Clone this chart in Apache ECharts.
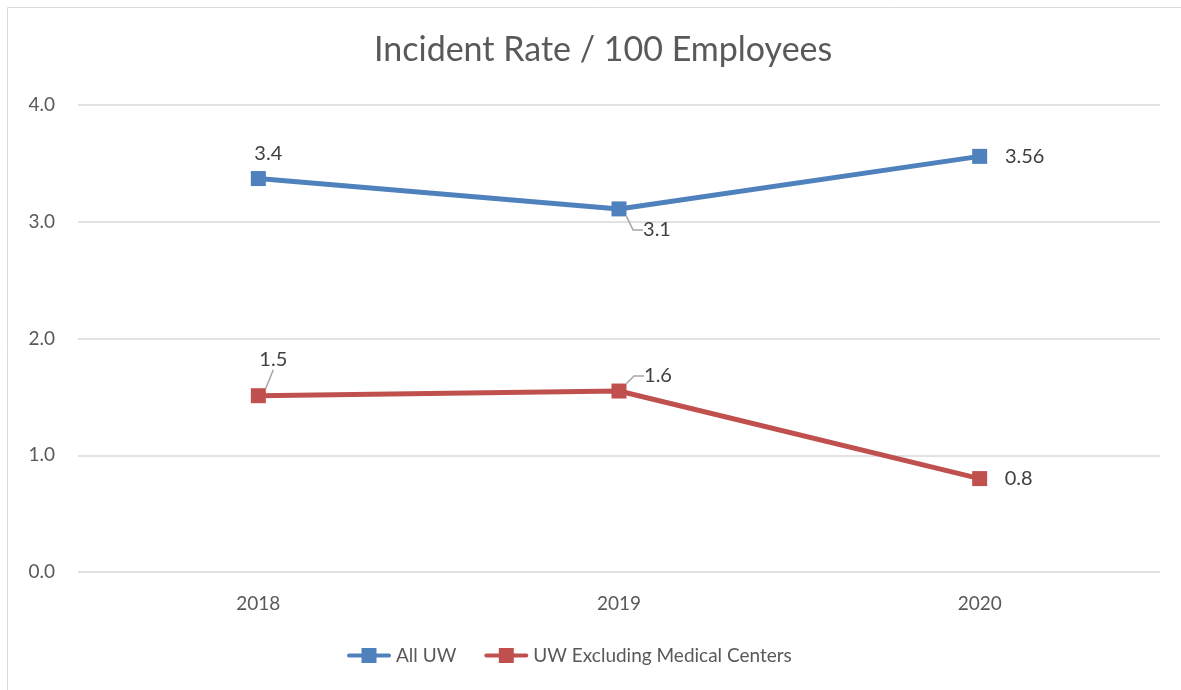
<!DOCTYPE html>
<html>
<head>
<meta charset="utf-8">
<script src="https://cdn.jsdelivr.net/npm/echarts@6/dist/echarts.min.js"></script>
<style>
  html, body { margin: 0; padding: 0; background: #fff; }
  #chart { width: 1181px; height: 690px; }
</style>
</head>
<body>
<div id="chart"></div>
<script>
// ---- data ----
var categories = ['2018', '2019', '2020'];
var seriesNames = ['All UW', 'UW Excluding Medical Centers'];
var allUW = [3.37, 3.11, 3.56];
var allUWLabels = ['3.4', '3.1', '3.56'];
var uwExcl = [1.51, 1.55, 0.80];
var uwExclLabels = ['1.5', '1.6', '0.8'];
var yTicks = [0, 1, 2, 3, 4];

// ---- label placement (styling only) ----
var labelOffsets = [
  [[10, -25], [38, 21], [45, 0]],
  [[15, -36], [39, -15], [39, 0]]
];
var guideLen2 = [
  [null, 10, null],
  [0, 10, null]
];

var font = 'Lato, "Open Sans", sans-serif';
var colors = ['#4f81bd', '#c0504d'];
var legendIcon = 'path://M2,5.5 L42,5.5 A2,2 0 0 1 42,9.5 L2,9.5 A2,2 0 0 1 2,5.5 Z M14.5,0 L29.5,0 L29.5,15 L14.5,15 Z';

function buildData(values, labels, si) {
  return values.map(function (v, i) {
    var g = guideLen2[si][i];
    return {
      value: v,
      label: { formatter: labels[i] },
      labelLine: g === null ? { show: false } : { show: true, length2: g }
    };
  });
}

var chart = echarts.init(document.getElementById('chart'));
chart.setOption({
  animation: false,
  title: {
    text: 'Incident Rate / 100 Employees',
    left: 369,
    top: 28,
    textStyle: { fontFamily: font, fontSize: 34, fontWeight: 'normal', color: '#595959' }
  },
  graphic: [{
    type: 'rect',
    shape: { x: 7.5, y: 7.5, width: 1300, height: 800 },
    style: { fill: 'none', stroke: '#d9d9d9', lineWidth: 1 },
    silent: true
  }],
  legend: {
    bottom: 20,
    left: 342,
    itemWidth: 44,
    itemHeight: 15,
    itemGap: 28,
    icon: legendIcon,
    textStyle: { fontFamily: font, fontSize: 19, color: '#595959' },
    data: seriesNames
  },
  grid: { left: 78, right: 21, top: 105, bottom: 118, containLabel: false },
  xAxis: {
    type: 'category',
    data: categories,
    boundaryGap: true,
    axisLine: { show: false },
    axisTick: { show: false },
    axisLabel: { fontFamily: font, fontSize: 19, color: '#595959', margin: 22 }
  },
  yAxis: {
    type: 'value',
    min: yTicks[0],
    max: yTicks[yTicks.length - 1],
    interval: 1,
    axisLine: { show: false },
    axisTick: { show: false },
    splitLine: { lineStyle: { color: '#d9d9d9', width: 1.5 } },
    axisLabel: {
      fontFamily: font, fontSize: 19, color: '#595959', margin: 23,
      formatter: function (v) { return v.toFixed(1); }
    }
  },
  series: [allUW, uwExcl].map(function (vals, si) {
    return {
      name: seriesNames[si],
      type: 'line',
      data: buildData(vals, si === 0 ? allUWLabels : uwExclLabels, si),
      color: colors[si],
      symbol: 'rect',
      symbolSize: 15,
      lineStyle: { width: 5, color: colors[si] },
      itemStyle: { color: colors[si] },
      label: {
        show: true,
        position: 'inside',
        fontFamily: font,
        fontSize: 20,
        color: '#404040'
      },
      labelLine: {
        show: false,
        lineStyle: { color: '#a6a6a6', width: 1.5 }
      },
      labelLayout: function (p) {
        var o = labelOffsets[p.seriesIndex][p.dataIndex];
        return { dx: o[0], dy: o[1] };
      }
    };
  })
});
</script>
</body>
</html>
